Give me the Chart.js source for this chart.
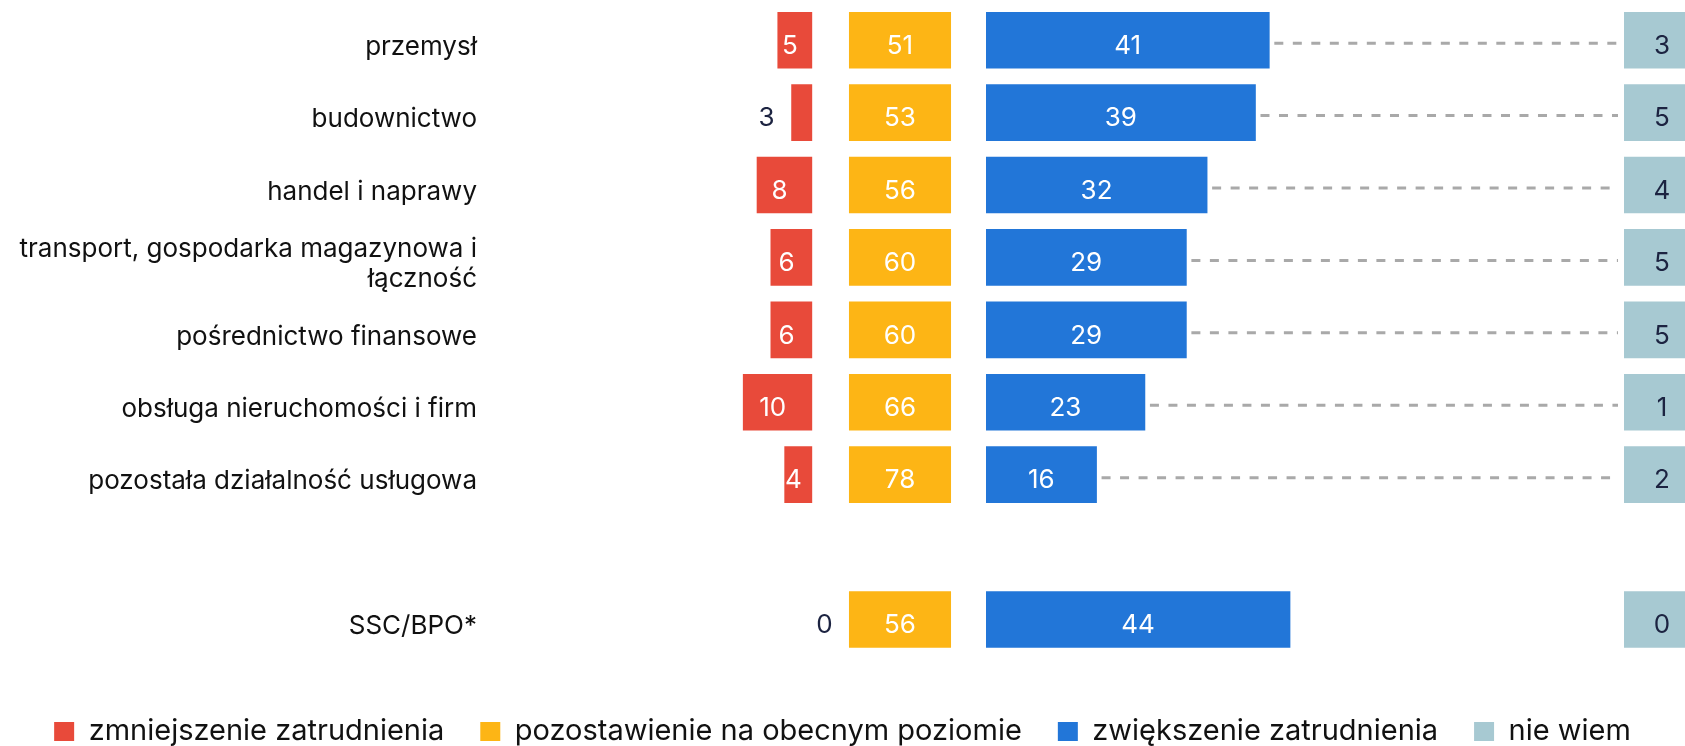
<!DOCTYPE html>
<html>
<head>
<meta charset="utf-8">
<script src="https://cdn.jsdelivr.net/npm/chart.js@4.4.0/dist/chart.umd.min.js"></script>
<style>
  html, body { margin: 0; padding: 0; background: #fff; }
  #wrap { width: 1685px; height: 746px; position: relative; }
</style>
</head>
<body>
<div id="wrap"><canvas id="chart"></canvas></div>
<script>
// dane
const kategorie = [
  'przemysł',
  'budownictwo',
  'handel i naprawy',
  ['transport, gospodarka magazynowa i', 'łączność'],
  'pośrednictwo finansowe',
  'obsługa nieruchomości i firm',
  'pozostała działalność usługowa',
  '',
  'SSC/BPO*'
];
const zmniejszenie = [5, 3, 8, 6, 6, 10, 4, null, 0];
const pozostawienie = [51, 53, 56, 60, 60, 66, 78, null, 56];
const zwiekszenie = [41, 39, 32, 29, 29, 23, 16, null, 44];
const nieWiem = [3, 5, 4, 5, 5, 1, 2, null, 0];

const serie = [
  'zmniejszenie zatrudnienia',
  'pozostawienie na obecnym poziomie',
  'zwiększenie zatrudnienia',
  'nie wiem'
];

// układ (piksele)
const PX_NA_PKT = 6.91;
const LEWA = 490;
const CZERWONY_ZERO = 812.3;
const ZOLTY_LEWA = 849.3;
const ZOLTY_SZER = 101.4;
const NIEBIESKI_ZERO = 986;
const SZARY_LEWA = 1624;
const SZARY_SZER = 76;
const PRAWA = 1685;
const WYS_OSI = 25.3;

const FONT = 'Inter, "Noto Sans", sans-serif';
const CIEMNY = '#1c2341';
const KOLORY = ['#e84a3a', '#fdb515', '#2276d8', '#a7c9d2'];

const pudelko = arr => arr.map(v => v == null ? null : [0, 1]);

const etykiety = {
  id: 'etykiety',
  beforeDatasetsDraw(chart) {
    // linie przerywane od niebieskiego słupka do "nie wiem"
    const ctx = chart.ctx;
    const xb = chart.scales.xBlue, xg = chart.scales.xGrey, y = chart.scales.y;
    ctx.save();
    ctx.strokeStyle = '#a9a9a9';
    ctx.lineWidth = 3;
    ctx.setLineDash([9, 9.5]);
    zwiekszenie.forEach((v, i) => {
      if (v == null || !nieWiem[i]) return;
      const yy = y.getPixelForValue(i) + 3;
      ctx.beginPath();
      ctx.moveTo(xb.getPixelForValue(v) + 5, yy);
      ctx.lineTo(xg.getPixelForValue(0) - 6, yy);
      ctx.stroke();
    });
    ctx.restore();
  },
  afterDatasetsDraw(chart) {
    const ctx = chart.ctx;
    ctx.save();
    ctx.font = '400 26px ' + FONT;
    ctx.textBaseline = 'middle';
    chart.data.datasets.forEach((ds, di) => {
      const meta = chart.getDatasetMeta(di);
      meta.data.forEach((bar, i) => {
        const v = ds.wartosci[i];
        if (v == null) return;
        const txt = String(v);
        const tw = ctx.measureText(txt).width;
        const ty = bar.y + 6;
        const lewo = Math.min(bar.x, bar.base), prawo = Math.max(bar.x, bar.base);
        if (di === 0) {
          if (tw + 10 <= prawo - lewo) {
            ctx.fillStyle = '#fff';
            ctx.textAlign = 'center';
            ctx.fillText(txt, (lewo + prawo) / 2 - 5, ty);
          } else if (v === 0) {
            ctx.fillStyle = CIEMNY;
            ctx.textAlign = 'left';
            ctx.fillText(txt, bar.base + 4, ty);
          } else {
            ctx.fillStyle = CIEMNY;
            ctx.textAlign = 'right';
            ctx.fillText(txt, lewo - 17, ty);
          }
        } else {
          ctx.fillStyle = di === 3 ? CIEMNY : '#fff';
          ctx.textAlign = 'center';
          ctx.fillText(txt, (lewo + prawo) / 2, ty);
        }
      });
    });
    ctx.restore();
  }
};

const osX = (szer, extra) => Object.assign({
  type: 'linear',
  position: 'bottom',
  stack: 'kolumny',
  stackWeight: szer,
  display: false,
  afterFit: s => { s.height = WYS_OSI; }
}, extra);

new Chart(document.getElementById('chart'), {
  type: 'bar',
  data: {
    labels: kategorie,
    datasets: [
      {
        label: serie[0], data: zmniejszenie, wartosci: zmniejszenie, xAxisID: 'xRed',
        backgroundColor: c => (c.raw === 0 ? 'rgba(0,0,0,0)' : KOLORY[0])
      },
      { label: serie[1], data: pudelko(pozostawienie), wartosci: pozostawienie, xAxisID: 'xYel', backgroundColor: KOLORY[1] },
      { label: serie[2], data: zwiekszenie, wartosci: zwiekszenie, xAxisID: 'xBlue', backgroundColor: KOLORY[2] },
      { label: serie[3], data: pudelko(nieWiem), wartosci: nieWiem, xAxisID: 'xGrey', backgroundColor: KOLORY[3] }
    ]
  },
  options: {
    indexAxis: 'y',
    responsive: true,
    maintainAspectRatio: false,
    animation: false,
    events: [],
    layout: { padding: { top: 4, left: 0, right: 0, bottom: -10 } },
    datasets: { bar: { grouped: false, barThickness: 56, borderWidth: 0 } },
    plugins: {
      tooltip: { enabled: false },
      legend: {
        display: true,
        position: 'bottom',
        labels: {
          boxWidth: 20,
          boxHeight: 19,
          padding: 36,
          color: '#111',
          font: { family: FONT, size: 29 },
          generateLabels: chart => chart.data.datasets.map((ds, i) => ({
            text: ds.label,
            fillStyle: KOLORY[i],
            strokeStyle: 'rgba(0,0,0,0)',
            lineWidth: 0,
            fontColor: '#111',
            datasetIndex: i
          }))
        }
      }
    },
    scales: {
      y: {
        type: 'category',
        grid: { display: false, drawTicks: false },
        border: { display: false },
        ticks: {
          autoSkip: false, padding: 13, labelOffset: 7, color: '#111',
          font: { family: FONT, size: 26, lineHeight: 1.15 }
        },
        afterFit: s => { s.width = LEWA; s.paddingTop = 0; s.paddingBottom = 0; }
      },
      xRed: osX(CZERWONY_ZERO - LEWA, { reverse: true, min: 0, max: (CZERWONY_ZERO - LEWA) / PX_NA_PKT }),
      xYel: osX(NIEBIESKI_ZERO - CZERWONY_ZERO, {
        min: -(ZOLTY_LEWA - CZERWONY_ZERO) / ZOLTY_SZER,
        max: (NIEBIESKI_ZERO - CZERWONY_ZERO - (ZOLTY_LEWA - CZERWONY_ZERO)) / ZOLTY_SZER
      }),
      xBlue: osX(SZARY_LEWA - NIEBIESKI_ZERO, { min: 0, max: (SZARY_LEWA - NIEBIESKI_ZERO) / PX_NA_PKT }),
      xGrey: osX(PRAWA - SZARY_LEWA, { min: 0, max: (PRAWA - SZARY_LEWA) / SZARY_SZER })
    }
  },
  plugins: [etykiety]
});
</script>
</body>
</html>
